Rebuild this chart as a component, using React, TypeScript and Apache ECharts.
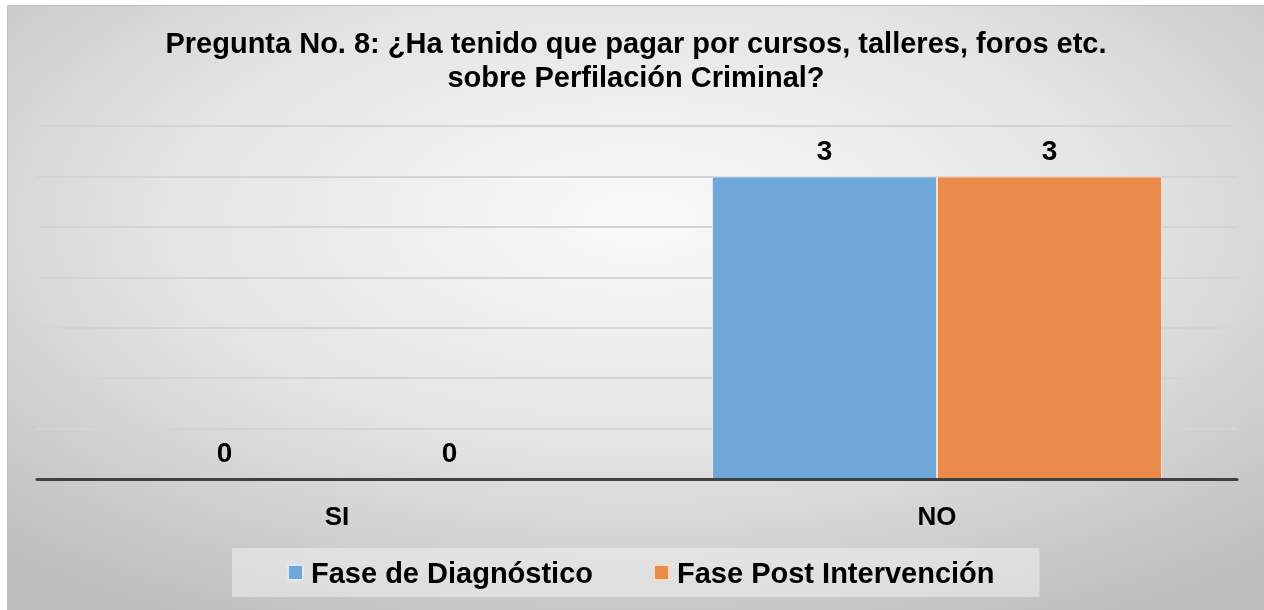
import React, { useEffect, useRef } from "react";
import * as echarts from "echarts";

const categories = ["SI", "NO"];
const diagnostico = [0, 3];
const postIntervencion = [0, 3];
const seriesNames = ["Fase de Diagnóstico", "Fase Post Intervención"];
const titleText = "Pregunta No. 8: ¿Ha tenido que pagar por cursos, talleres, foros etc.\nsobre Perfilación Criminal?";

export default function App() {
  const ref = useRef<HTMLDivElement>(null);
  useEffect(() => {
    if (!ref.current) return;
    const chart = echarts.init(ref.current, null, { renderer: "svg" });
    const font = "Liberation Sans, Arial, sans-serif";
    const labelStyle = {
      show: true,
      position: "top" as const,
      distance: 12,
      color: "#000",
      fontWeight: "bold" as const,
      fontSize: 28,
      fontFamily: font,
    };
    chart.setOption({
      animation: false,
      graphic: [
        {
          type: "rect",
          z: -10,
          silent: true,
          shape: { x: 7.5, y: 5.5, width: 1264, height: 610 },
          style: {
            fill: new echarts.graphic.RadialGradient(0.5, 0.35, 0.75, [
              { offset: 0, color: "#fafafa" },
              { offset: 0.5, color: "#e4e4e4" },
              { offset: 1, color: "#bdbdbd" },
            ]),
            stroke: "#bfbfbf",
            lineWidth: 1,
          },
        },
      ],
      title: {
        text: titleText,
        left: 636,
        textAlign: "center",
        top: 26,
        padding: 0,
        textStyle: {
          fontFamily: font,
          fontWeight: "bold",
          fontSize: 29,
          lineHeight: 34,
          color: "#000",
        },
      },
      legend: {
        data: seriesNames,
        left: 232,
        top: 548,
        padding: [10, 45, 10, 55],
        itemGap: 60,
        backgroundColor: "rgba(240,240,240,0.55)",
        itemWidth: 15,
        itemHeight: 15,
        icon: "rect",
        textStyle: {
          fontFamily: font,
          fontWeight: "bold",
          fontSize: 29,
          lineHeight: 29,
          color: "#000",
          padding: [0, 0, 0, 3],
        },
      },
      grid: { left: 37, right: 27, top: 126, bottom: 131 },
      xAxis: {
        type: "category",
        data: categories,
        z: 5,
        axisLine: { show: true, lineStyle: { color: "#404040", width: 3 } },
        axisTick: { show: false },
        axisLabel: {
          margin: 24,
          color: "#000",
          fontWeight: "bold",
          fontSize: 26,
          fontFamily: font,
        },
      },
      yAxis: {
        type: "value",
        min: 0,
        max: 3.5,
        interval: 0.5,
        axisLabel: { show: false },
        axisLine: { show: false },
        axisTick: { show: false },
        splitLine: { lineStyle: { color: "#d4d4d4", width: 2 } },
      },
      series: [
        {
          name: seriesNames[0],
          type: "bar",
          data: diagnostico,
          barGap: "0%",
          barCategoryGap: "25%",
          itemStyle: { color: "#70a7d9", borderColor: "#dce8f4", borderWidth: 1 },
          label: labelStyle,
        },
        {
          name: seriesNames[1],
          type: "bar",
          data: postIntervencion,
          barGap: "0%",
          barCategoryGap: "25%",
          itemStyle: { color: "#eb8b4b", borderColor: "#f7dcc8", borderWidth: 1 },
          label: labelStyle,
        },
      ],
    });
    return () => chart.dispose();
  }, []);
  return (
    <div
      ref={ref}
      style={{ position: "fixed", left: 0, top: 0, width: 1264, height: 610 }}
    />
  );
}
